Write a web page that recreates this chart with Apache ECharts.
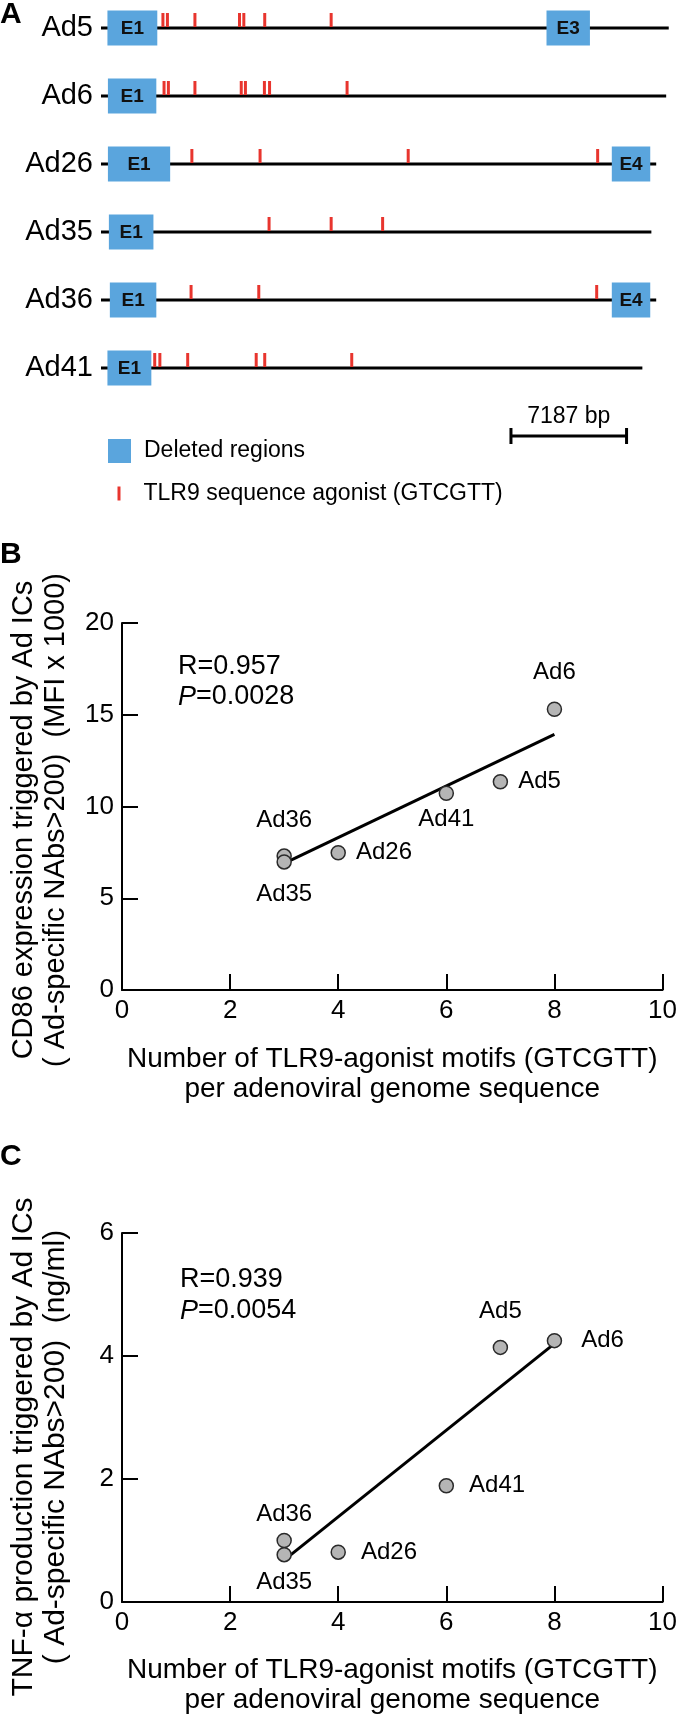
<!DOCTYPE html>
<html><head><meta charset="utf-8">
<script src="https://cdn.jsdelivr.net/npm/echarts@6/dist/echarts.min.js"></script>
<style>html,body{margin:0;padding:0;background:#fff}#chart{width:680px;height:1716px}</style>
</head><body><div id="chart"></div>
<script>
// ---------- Panel A data (genome maps, positions in bp) ----------
const rowNames = ['Ad5', 'Ad6', 'Ad26', 'Ad35', 'Ad36', 'Ad41'];
const genomeLengthBp = [35300, 35140, 34520, 34220, 34520, 33660];
const deletedRow = [0, 0, 1, 2, 2, 3, 4, 4, 5];
const deletedLabel = ['E1', 'E3', 'E1', 'E1', 'E4', 'E1', 'E1', 'E4', 'E1'];
const deletedStartBp = [400, 27700, 430, 430, 31760, 490, 550, 31760, 400];
const deletedEndBp = [3500, 30400, 3440, 4300, 34150, 3260, 3440, 34150, 3130];
const motifsAd5 = [3850, 4130, 5840, 8610, 8880, 10180, 14310];
const motifsAd6 = [3920, 4190, 5840, 8720, 8980, 10160, 10480, 15300];
const motifsAd26 = [5650, 9890, 19100, 30880];
const motifsAd35 = [10450, 14310, 17510];
const motifsAd36 = [5600, 9810, 30820];
const motifsAd41 = [3340, 3660, 5390, 9650, 10180, 15590];
const scaleBarStartBp = 25490;
const scaleBarLengthBp = 7187;
const scaleBarLabel = '7187 bp';
const legendDeleted = 'Deleted regions';
const legendMotif = 'TLR9 sequence agonist (GTCGTT)';

// ---------- Panels B & C data ----------
const pointNames = ['Ad5', 'Ad6', 'Ad26', 'Ad36', 'Ad35', 'Ad41'];
const motifCount = [7, 8, 4, 3, 3, 6];
const cd86 = [11.35, 15.3, 7.48, 7.3, 6.98, 10.72];
const tnf = [4.14, 4.25, 0.81, 1.0, 0.77, 1.89];
const cd86Fit = [[3, 6.9], [8, 13.93]];
const tnfFit = [[3, 0.68], [8, 4.2]];
const statsB = ['R=0.957', '0.0028'];
const statsC = ['R=0.939', '0.0054'];
const xTitle = 'Number of TLR9-agonist motifs (GTCGTT)\nper adenoviral genome sequence';
const yTitleB = 'CD86 expression triggered by Ad ICs\n( Ad-specific NAbs>200)  (MFI x 1000)';
const yTitleC = 'TNF-\u03b1 production triggered by Ad ICs\n( Ad-specific NAbs>200)  (ng/ml)';

// ---------- build ----------
const FONT = '"Liberation Sans", Arial, Helvetica, sans-serif';
const INK = '#000';
const BLUE = '#5AA5DD';
const RED = '#E8352E';
const allMotifs = [motifsAd5, motifsAd6, motifsAd26, motifsAd35, motifsAd36, motifsAd41];

const genomeData = genomeLengthBp.map((len, i) => [len, i]);
const deletedData = deletedRow.map((r, i) => [deletedStartBp[i], r, deletedEndBp[i]]);
const motifData = [];
allMotifs.forEach((arr, r) => arr.forEach(p => motifData.push([p, r])));
const scaleRow = rowNames.length;
const scaleData = [[scaleBarStartBp, scaleRow, scaleBarStartBp + scaleBarLengthBp]];

const labelB = {Ad5: ['right', 10], Ad6: ['top', 17], Ad26: ['right', 10], Ad35: ['bottom', 13], Ad36: ['top', 16], Ad41: ['bottom', 6]};
const labelC = {Ad5: ['top', 16], Ad6: ['right', 19], Ad26: ['right', 15], Ad35: ['bottom', 8], Ad36: ['top', 6], Ad41: ['right', 15]};

function scatterData(vals, lab) {
  return pointNames.map((n, i) => ({
    name: n, value: [motifCount[i], vals[i]],
    label: {position: lab[n][0], distance: lab[n][1]}
  }));
}

function valueAxisStyle() {
  return {
    axisLine: {show: true, lineStyle: {color: INK, width: 2}},
    axisTick: {show: true, inside: true, length: 16, lineStyle: {color: INK, width: 2}},
    splitLine: {show: false},
    axisLabel: {fontSize: 26, color: INK, fontFamily: FONT}
  };
}

const chart = echarts.init(document.getElementById('chart'), null, {renderer: 'canvas'});
const option = {
  backgroundColor: '#fff',
  animation: false,
  textStyle: {fontFamily: FONT, color: INK},
  grid: [
    {left: 101, top: 28, width: 586, height: 408},
    {left: 112, top: 623, width: 551, height: 367},
    {left: 112, top: 1233, width: 552, height: 369}
  ],
  xAxis: [
    {gridIndex: 0, type: 'value', min: 0, max: 36000, show: false},
    Object.assign(valueAxisStyle(), {
      gridIndex: 1, type: 'value', min: 0, max: 10, interval: 2,
      name: xTitle, nameLocation: 'middle', nameGap: 54,
      nameTextStyle: {fontSize: 28, lineHeight: 30, color: INK, fontFamily: FONT}
    }),
    Object.assign(valueAxisStyle(), {
      gridIndex: 2, type: 'value', min: 0, max: 10, interval: 2,
      name: xTitle, nameLocation: 'middle', nameGap: 53,
      nameTextStyle: {fontSize: 28, lineHeight: 30, color: INK, fontFamily: FONT}
    })
  ],
  yAxis: [
    {gridIndex: 0, type: 'value', min: 0, max: scaleRow, interval: 1, inverse: true,
     axisLine: {show: false}, axisTick: {show: false}, splitLine: {show: false},
     axisLabel: {fontSize: 29, color: INK, margin: 8, formatter: v => rowNames[v] || ''}},
    Object.assign(valueAxisStyle(), {
      gridIndex: 1, type: 'value', min: 0, max: 20, interval: 5,
      name: yTitleB, nameLocation: 'middle', nameRotate: 90, nameGap: 50,
      nameTextStyle: {fontSize: 29, lineHeight: 32, color: INK, fontFamily: FONT, padding: [0, 27, 0, 0]}
    }),
    Object.assign(valueAxisStyle(), {
      gridIndex: 2, type: 'value', min: 0, max: 6, interval: 2,
      name: yTitleC, nameLocation: 'middle', nameRotate: 90, nameGap: 50,
      nameTextStyle: {fontSize: 30, lineHeight: 32, color: INK, fontFamily: FONT, padding: [0, 59, 0, 0]}
    })
  ],
  legend: [
    {data: [{name: legendDeleted, icon: 'rect', itemStyle: {color: BLUE}}], left: 108, top: 439,
     padding: 0, itemWidth: 23, itemHeight: 24, selectedMode: false,
     textStyle: {fontSize: 23, color: INK, fontFamily: FONT, padding: [0, 0, 0, 8]}},
    {data: [{name: legendMotif, icon: 'rect', itemStyle: {color: RED}}], left: 117.5, top: 482,
     padding: 0, itemWidth: 3, itemHeight: 14, selectedMode: false,
     textStyle: {fontSize: 23, color: INK, fontFamily: FONT, padding: [0, 0, 0, 18]}}
  ],
  graphic: [
    {type: 'text', x: 0, y: 15, style: {text: 'A', font: 'bold 30px ' + FONT, fill: INK, verticalAlign: 'middle'}},
    {type: 'text', x: 0, y: 555, style: {text: 'B', font: 'bold 30px ' + FONT, fill: INK, verticalAlign: 'middle'}},
    {type: 'text', x: 0, y: 1157, style: {text: 'C', font: 'bold 30px ' + FONT, fill: INK, verticalAlign: 'middle'}},
    {type: 'text', x: 178, y: 667, style: {text: statsB[0], font: '27px ' + FONT, fill: INK, verticalAlign: 'middle'}},
    {type: 'text', x: 178, y: 697, style: {text: '{i|P}=' + statsB[1], font: '27px ' + FONT, fill: INK, verticalAlign: 'middle',
      rich: {i: {fontStyle: 'italic', fontSize: 27, fontFamily: FONT, fill: INK}}}},
    {type: 'text', x: 180, y: 1280, style: {text: statsC[0], font: '27px ' + FONT, fill: INK, verticalAlign: 'middle'}},
    {type: 'text', x: 180, y: 1311, style: {text: '{i|P}=' + statsC[1], font: '27px ' + FONT, fill: INK, verticalAlign: 'middle',
      rich: {i: {fontStyle: 'italic', fontSize: 27, fontFamily: FONT, fill: INK}}}}
  ],
  series: [
    {
      type: 'custom', name: 'genomes', xAxisIndex: 0, yAxisIndex: 0, z: 1, silent: true,
      data: genomeData,
      renderItem: (params, api) => {
        const a = api.coord([0, api.value(1)]);
        const b = api.coord([api.value(0), api.value(1)]);
        return {type: 'line', shape: {x1: a[0], y1: a[1], x2: b[0], y2: b[1]}, style: {stroke: '#000', lineWidth: 3}};
      }
    },
    {
      type: 'custom', name: legendMotif, xAxisIndex: 0, yAxisIndex: 0, z: 2, silent: true,
      itemStyle: {color: RED},
      data: motifData,
      renderItem: (params, api) => {
        const p = api.coord([api.value(0), api.value(1)]);
        return {type: 'rect', shape: {x: p[0] - 1.5, y: p[1] - 15, width: 3, height: 14}, style: {fill: RED}};
      }
    },
    {
      type: 'custom', name: legendDeleted, xAxisIndex: 0, yAxisIndex: 0, z: 3, silent: true,
      itemStyle: {color: BLUE},
      data: deletedData,
      renderItem: (params, api) => {
        const a = api.coord([api.value(0), api.value(1)]);
        const b = api.coord([api.value(2), api.value(1)]);
        const h = 35;
        return {type: 'group', children: [
          {type: 'rect', shape: {x: a[0], y: a[1] - h / 2, width: b[0] - a[0], height: h}, style: {fill: BLUE}},
          {type: 'text', x: (a[0] + b[0]) / 2, y: a[1] + 1,
           style: {text: deletedLabel[params.dataIndex], fill: '#111', font: 'bold 19px ' + FONT, align: 'center', verticalAlign: 'middle'}}
        ]};
      }
    },
    {
      type: 'custom', name: 'scale', xAxisIndex: 0, yAxisIndex: 0, z: 3, silent: true,
      data: scaleData,
      renderItem: (params, api) => {
        const a = api.coord([api.value(0), api.value(1)]);
        const b = api.coord([api.value(2), api.value(1)]);
        const st = {stroke: INK, lineWidth: 3};
        return {type: 'group', children: [
          {type: 'line', shape: {x1: a[0], y1: a[1], x2: b[0], y2: b[1]}, style: st},
          {type: 'line', shape: {x1: a[0], y1: a[1] - 8, x2: a[0], y2: a[1] + 8}, style: st},
          {type: 'line', shape: {x1: b[0], y1: b[1] - 8, x2: b[0], y2: b[1] + 8}, style: st},
          {type: 'text', x: (a[0] + b[0]) / 2, y: a[1] - 19,
           style: {text: scaleBarLabel, fill: INK, font: '23px ' + FONT, align: 'center', verticalAlign: 'middle'}}
        ]};
      }
    },
    {
      type: 'line', name: 'fitB', xAxisIndex: 1, yAxisIndex: 1, z: 2, silent: true,
      data: cd86Fit, symbol: 'none', lineStyle: {color: '#000', width: 3}
    },
    {
      type: 'scatter', name: 'CD86', xAxisIndex: 1, yAxisIndex: 1, z: 3,
      data: scatterData(cd86, labelB), symbolSize: 14,
      itemStyle: {color: '#B5B5B5', borderColor: '#2a2a2a', borderWidth: 1.5, opacity: 1},
      label: {show: true, formatter: '{b}', fontSize: 24, color: INK, fontFamily: FONT, opacity: 1, textBorderWidth: 0},
      emphasis: {disabled: true}
    },
    {
      type: 'line', name: 'fitC', xAxisIndex: 2, yAxisIndex: 2, z: 2, silent: true,
      data: tnfFit, symbol: 'none', lineStyle: {color: '#000', width: 3}
    },
    {
      type: 'scatter', name: 'TNF', xAxisIndex: 2, yAxisIndex: 2, z: 3,
      data: scatterData(tnf, labelC), symbolSize: 14,
      itemStyle: {color: '#B5B5B5', borderColor: '#2a2a2a', borderWidth: 1.5, opacity: 1},
      label: {show: true, formatter: '{b}', fontSize: 24, color: INK, fontFamily: FONT, opacity: 1, textBorderWidth: 0},
      emphasis: {disabled: true}
    }
  ]
};
chart.setOption(option);
</script>
</body></html>
